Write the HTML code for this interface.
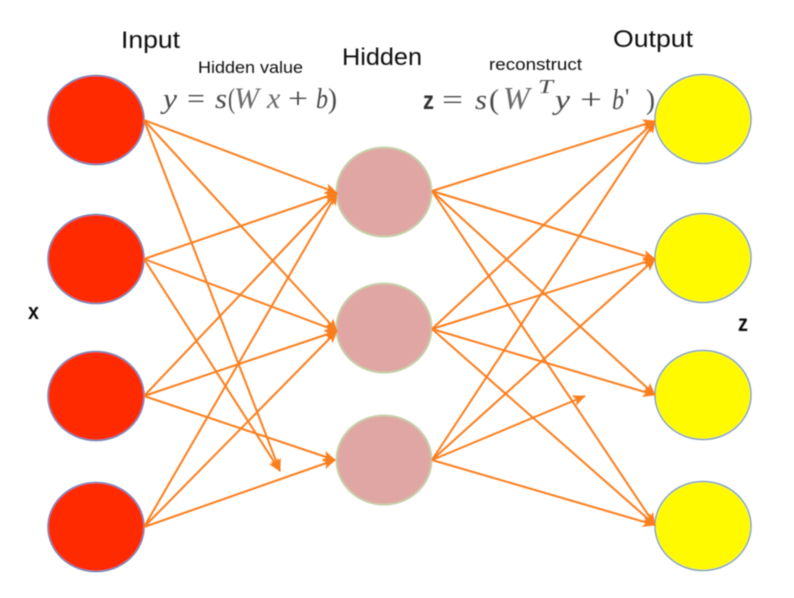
<!DOCTYPE html>
<html>
<head>
<meta charset="utf-8">
<style>
html,body{margin:0;padding:0;background:#fff;width:794px;height:598px;overflow:hidden}
svg{display:block}
text{font-family:"Liberation Sans",sans-serif;fill:#111}
.m{font-family:"Liberation Serif",serif;font-style:italic;fill:#4a4a4a}
.n{font-family:"Liberation Serif",serif;fill:#4a4a4a}
.w{font-family:"Liberation Serif",serif;font-style:italic;fill:#6a6a6a}
</style>
</head>
<body>
<svg width="794" height="598" viewBox="0 0 794 598" xmlns="http://www.w3.org/2000/svg">
<defs>
<marker id="a" markerUnits="userSpaceOnUse" markerWidth="14" markerHeight="12" refX="12" refY="5.5" orient="auto">
<path d="M0 0 L13 5.5 L0 11 L3 5.5 Z" fill="#fb7e1d"/>
</marker>
<filter id="b" x="-5%" y="-5%" width="110%" height="110%"><feGaussianBlur stdDeviation="0.5"/></filter>
</defs>
<g filter="url(#b)">
<g fill="#ff2a00" stroke="#6f86b5" stroke-width="1.5">
<ellipse cx="96" cy="120" rx="48" ry="44.5"/>
<ellipse cx="96" cy="259" rx="48" ry="44.5"/>
<ellipse cx="96" cy="396" rx="48" ry="44.5"/>
<ellipse cx="96" cy="527" rx="48" ry="44.5"/>
</g>
<g fill="#e0a6a4" stroke="#c6cfa8" stroke-width="2">
<ellipse cx="384" cy="192" rx="47.5" ry="44.5"/>
<ellipse cx="384" cy="328" rx="47.5" ry="44.5"/>
<ellipse cx="384" cy="460" rx="47.5" ry="44.5"/>
</g>
<g fill="#fffa00" stroke="#82a3bd" stroke-width="1.5">
<ellipse cx="703" cy="119" rx="48" ry="44.5"/>
<ellipse cx="703" cy="258" rx="48" ry="44.5"/>
<ellipse cx="703" cy="395" rx="48" ry="44.5"/>
<ellipse cx="703" cy="526" rx="48" ry="44.5"/>
</g>
<g stroke="#fb7e1d" stroke-width="2" fill="none">
<line x1="144" y1="120" x2="337" y2="193" marker-end="url(#a)"/>
<line x1="144" y1="120" x2="337" y2="331" marker-end="url(#a)"/>
<line x1="144" y1="120" x2="280" y2="471" marker-end="url(#a)"/>
<line x1="144" y1="259" x2="337" y2="193" marker-end="url(#a)"/>
<line x1="144" y1="259" x2="337" y2="331" marker-end="url(#a)"/>
<line x1="144" y1="259" x2="280" y2="471" marker-end="url(#a)"/>
<line x1="144" y1="396" x2="337" y2="193" marker-end="url(#a)"/>
<line x1="144" y1="396" x2="337" y2="331" marker-end="url(#a)"/>
<line x1="144" y1="396" x2="335" y2="460" marker-end="url(#a)"/>
<line x1="144" y1="527" x2="337" y2="193" marker-end="url(#a)"/>
<line x1="144" y1="527" x2="337" y2="331" marker-end="url(#a)"/>
<line x1="144" y1="527" x2="335" y2="460" marker-end="url(#a)"/>
<line x1="432" y1="191" x2="655" y2="121" marker-end="url(#a)"/>
<line x1="432" y1="191" x2="655" y2="259" marker-end="url(#a)"/>
<line x1="432" y1="191" x2="655" y2="395" marker-end="url(#a)"/>
<line x1="432" y1="191" x2="655" y2="525" marker-end="url(#a)"/>
<line x1="432" y1="329" x2="655" y2="121" marker-end="url(#a)"/>
<line x1="432" y1="329" x2="655" y2="259" marker-end="url(#a)"/>
<line x1="432" y1="329" x2="655" y2="395" marker-end="url(#a)"/>
<line x1="432" y1="329" x2="655" y2="525" marker-end="url(#a)"/>
<line x1="432" y1="460" x2="655" y2="121" marker-end="url(#a)"/>
<line x1="432" y1="460" x2="655" y2="259" marker-end="url(#a)"/>
<line x1="432" y1="460" x2="585" y2="396" marker-end="url(#a)"/>
<line x1="432" y1="460" x2="655" y2="525" marker-end="url(#a)"/>
</g>
<text x="121" y="48" font-size="24" textLength="59" lengthAdjust="spacingAndGlyphs">Input</text>
<text x="342" y="65" font-size="24" textLength="80" lengthAdjust="spacingAndGlyphs">Hidden</text>
<text x="613" y="47" font-size="24" textLength="80" lengthAdjust="spacingAndGlyphs">Output</text>
<text x="198" y="73" font-size="17" textLength="105" lengthAdjust="spacingAndGlyphs">Hidden value</text>
<text x="489" y="70" font-size="17" textLength="93" lengthAdjust="spacingAndGlyphs">reconstruct</text>
<text x="28" y="319" font-size="22" font-weight="bold" textLength="11" lengthAdjust="spacingAndGlyphs">x</text>
<text x="738" y="331" font-size="23" font-weight="bold" textLength="10" lengthAdjust="spacingAndGlyphs">z</text>
<text x="163" y="108" font-size="28" class="m" textLength="14" lengthAdjust="spacingAndGlyphs">y</text>
<text x="187" y="108" font-size="28" class="n" textLength="18" lengthAdjust="spacingAndGlyphs">=</text>
<text x="215" y="108" font-size="28" class="m" textLength="12" lengthAdjust="spacingAndGlyphs">s</text>
<text x="228" y="108" font-size="28" class="n" textLength="7" lengthAdjust="spacingAndGlyphs">(</text>
<text x="234" y="108" font-size="30" class="w">W</text>
<text x="267" y="108" font-size="30" class="w">x</text>
<text x="288" y="108" font-size="28" class="n" textLength="20" lengthAdjust="spacingAndGlyphs">+</text>
<text x="316" y="108" font-size="28" class="m" textLength="12" lengthAdjust="spacingAndGlyphs">b</text>
<text x="328" y="108" font-size="28" class="n" textLength="9" lengthAdjust="spacingAndGlyphs">)</text>
<text x="423" y="109" font-size="26" font-weight="bold" style="fill:#333" textLength="11" lengthAdjust="spacingAndGlyphs">z</text>
<text x="442" y="109" font-size="28" class="n" textLength="21" lengthAdjust="spacingAndGlyphs">=</text>
<text x="475" y="109" font-size="28" class="m" textLength="12" lengthAdjust="spacingAndGlyphs">s</text>
<text x="489" y="109" font-size="28" class="n" textLength="10" lengthAdjust="spacingAndGlyphs">(</text>
<text x="503" y="109" font-size="32" class="w">W</text>
<text x="538" y="93" font-size="20" class="m" textLength="15" lengthAdjust="spacingAndGlyphs">T</text>
<text x="555" y="109" font-size="28" class="m" textLength="15" lengthAdjust="spacingAndGlyphs">y</text>
<text x="580" y="109" font-size="28" class="n" textLength="22" lengthAdjust="spacingAndGlyphs">+</text>
<text x="612" y="109" font-size="28" class="m" textLength="12" lengthAdjust="spacingAndGlyphs">b</text>
<text x="625" y="105" font-size="24" class="n">'</text>
<text x="646" y="109" font-size="28" class="n" textLength="9" lengthAdjust="spacingAndGlyphs">)</text>
</g>
</svg>
</body>
</html>
